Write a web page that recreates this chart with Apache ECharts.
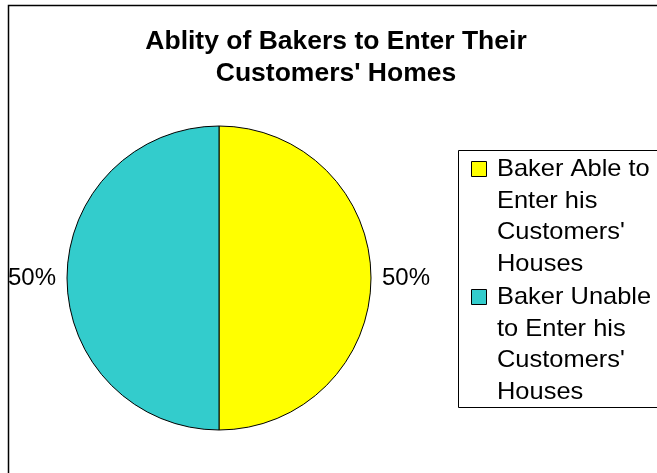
<!DOCTYPE html>
<html>
<head>
<meta charset="utf-8">
<script src="https://cdn.jsdelivr.net/npm/echarts@6/dist/echarts.min.js"></script>
<style>
  html, body { margin: 0; padding: 0; background: #fff; }
  #chart { width: 657px; height: 473px; }
</style>
</head>
<body>
<div id="chart"></div>
<script>
// Chart title lines
const titleLines = ['Ablity of Bakers to Enter Their', "Customers' Homes"];

// Slice categories and their share
const categories = ["Baker Able to Enter his Customers' Houses", "Baker Unable to Enter his Customers' Houses"];
const values = [50, 50];
const colors = ['#FFFF00', '#33CCCC'];

// Legend text, wrapped the way it is printed in the key box
const legendLines = [
  ['Baker Able to', 'Enter his', "Customers'", 'Houses'],
  ['Baker Unable', 'to Enter his', "Customers'", 'Houses']
];

const FONT = '"Liberation Sans", Arial, sans-serif';
const chart = echarts.init(document.getElementById('chart'), null, { renderer: 'canvas' });

// Key box built from the category list
const legendBox = { x: 458, y: 150, w: 260, h: 257 };
const legendGraphics = [{
  type: 'rect',
  shape: { x: legendBox.x + 0.5, y: legendBox.y + 0.5, width: legendBox.w, height: legendBox.h },
  style: { fill: '#fff', stroke: '#000', lineWidth: 1 },
  z: 10
}];
categories.forEach(function (name, i) {
  const top = legendBox.y + 11 + i * 128;
  legendGraphics.push({
    type: 'rect',
    shape: { x: legendBox.x + 13.5, y: top + 0.5, width: 15, height: 15 },
    style: { fill: colors[i], stroke: '#000', lineWidth: 1 },
    z: 11
  });
  legendGraphics.push({
    type: 'text',
    x: legendBox.x + 39,
    y: top - 7,
    scaleX: 1.06,
    style: {
      text: legendLines[i].join('\n'),
      font: '24px ' + FONT,
      fill: '#000',
      lineHeight: 31.5,
      textAlign: 'left',
      textVerticalAlign: 'top'
    },
    z: 11
  });
});

chart.setOption({
  backgroundColor: '#fff',
  animation: false,
  graphic: [
    // outer frame
    {
      type: 'rect',
      shape: { x: 8.5, y: 5.5, width: 700, height: 520 },
      style: { fill: 'none', stroke: '#000', lineWidth: 1.5 },
      z: 1
    },
    {
      type: 'text',
      x: 336,
      y: 26,
      scaleX: 1.06,
      style: {
        text: titleLines.join('\n'),
        font: 'bold 25px ' + FONT,
        fill: '#000',
        lineHeight: 32,
        textAlign: 'center',
        textVerticalAlign: 'top'
      },
      z: 5
    }
  ].concat(legendGraphics),
  series: [{
    type: 'pie',
    center: [219, 278],
    radius: 152,
    startAngle: 90,
    clockwise: true,
    silent: true,
    avoidLabelOverlap: false,
    data: categories.map(function (name, i) {
      return { name: name, value: values[i], itemStyle: { color: colors[i] } };
    }),
    itemStyle: { borderColor: '#000', borderWidth: 1 },
    label: {
      show: true,
      position: 'outside',
      overflow: 'none',
      formatter: function (p) { return Math.round(p.percent) + '%'; },
      fontFamily: FONT,
      fontSize: 24,
      color: '#000',
      distanceToLabelLine: 5
    },
    labelLine: { show: false, length: 3, length2: 3 },
    emphasis: { disabled: true }
  }]
});
</script>
</body>
</html>
